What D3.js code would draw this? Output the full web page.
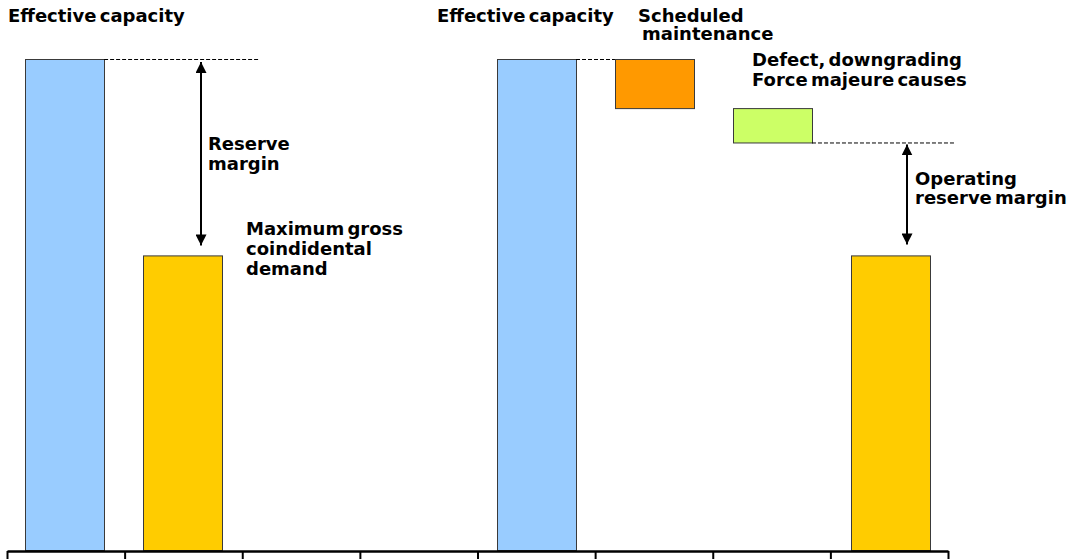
<!DOCTYPE html>
<html>
<head>
<meta charset="utf-8">
<script src="https://cdn.jsdelivr.net/npm/d3@7"></script>
<style>
  html, body { margin: 0; padding: 0; background: #fff; }
  svg text { font-family: "DejaVu Sans", Verdana, sans-serif; font-weight: bold; font-size: 18px; word-spacing: -3px; fill: #000; }
</style>
</head>
<body>
<svg id="chart" width="1068" height="559"></svg>
<script>
// Capacity balance: effective capacity vs. demand, and the deductions leading to the operating reserve margin
const categories = ["capacityA", "demandA", "gapA", "gapB", "capacityB", "maintenance", "outages", "demandB"];
const barStart   = [0,   0,  null, null, 0,   90,  83, 0];
const barEnd     = [100, 60, null, null, 100, 100, 90, 60];
const barColors  = ["#99CCFF", "#FFCC00", null, null, "#99CCFF", "#FF9900", "#CCFF66", "#FFCC00"];
const tickCount  = 8;

const svg = d3.select("#chart");
const plotLeft = 7, plotRight = 948, plotBottom = 550, plotTop = 59;

const x = d3.scaleBand().domain(categories).range([plotLeft, plotRight]).paddingInner(0.33).paddingOuter(0.153);
const xEdge = d3.scaleLinear().domain([0, tickCount]).range([plotLeft, plotRight]);
const y = d3.scaleLinear().domain([0, 100]).range([plotBottom, plotTop]);

const bars = categories.map((c, i) => ({ c, s: barStart[i], e: barEnd[i], color: barColors[i] }))
  .filter(d => d.s !== null);

svg.append("g").selectAll("rect").data(bars).join("rect")
  .attr("x", d => Math.round(x(d.c)) + 0.5)
  .attr("y", d => y(d.e) + 0.5)
  .attr("width", Math.round(x.bandwidth()))
  .attr("height", d => y(d.s) - y(d.e))
  .attr("fill", d => d.color)
  .attr("stroke", "#3a3a3a")
  .attr("stroke-width", 1);

// category axis with boundary ticks
const axis = d3.axisBottom(xEdge).tickValues(d3.range(tickCount + 1)).tickFormat("").tickSize(9).tickSizeOuter(0);
const gAxis = svg.append("g").attr("transform", `translate(0,${plotBottom + 1})`).call(axis);
gAxis.select(".domain").attr("stroke", "#000").attr("stroke-width", 2.5);
gAxis.selectAll(".tick line").attr("stroke", "#000").attr("stroke-width", 2);

// dashed guide lines
const dash = svg.append("g").attr("stroke", "#000").attr("stroke-width", 1).attr("stroke-dasharray", "4,2");
dash.append("line").attr("x1", x("capacityA") + x.bandwidth()).attr("x2", 260)
  .attr("y1", y(100) + 0.5).attr("y2", y(100) + 0.5);
dash.append("line").attr("x1", x("capacityB") + x.bandwidth()).attr("x2", x("maintenance"))
  .attr("y1", y(100) + 0.5).attr("y2", y(100) + 0.5);
dash.append("line").attr("x1", x("outages") + x.bandwidth()).attr("x2", 955)
  .attr("y1", y(83) + 0.5).attr("y2", y(83) + 0.5);

// double-headed arrows
const defs = svg.append("defs");
defs.append("marker").attr("id", "head").attr("viewBox", "0 0 10 10")
  .attr("refX", 10).attr("refY", 5).attr("markerWidth", 11).attr("markerHeight", 11)
  .attr("markerUnits", "userSpaceOnUse").attr("orient", "auto-start-reverse")
  .append("path").attr("d", "M0,0 L10,5 L0,10 Z").attr("fill", "#000");

function arrow(xp, v1, v2, gap1, gap2) {
  svg.append("line").attr("x1", xp).attr("x2", xp)
    .attr("y1", y(v1) + gap1).attr("y2", y(v2) - gap2)
    .attr("stroke", "#000").attr("stroke-width", 2)
    .attr("marker-start", "url(#head)").attr("marker-end", "url(#head)");
}
arrow(201, 100, 60, 3, 10);
arrow(907, 83, 60, 2, 11);

// annotations
function label(lines, xp, yp, dy) {
  const t = svg.append("text").attr("x", xp).attr("y", yp);
  lines.forEach((s, i) => t.append("tspan").attr("x", xp).attr("dy", i ? dy : 0).text(s));
}
label(["Effective capacity"], 8, 22, 0);
label(["Effective capacity"], 437, 22, 0);
label(["Scheduled"], 638, 21.5, 0);
label(["maintenance"], 642, 40, 0);
label(["Defect, downgrading", "Force majeure causes"], 752, 66, 19.5);
label(["Reserve", "margin"], 208, 150, 20);
label(["Maximum gross", "coindidental", "demand"], 246, 235, 20);
label(["Operating", "reserve margin"], 915, 184.5, 19.5);
</script>
</body>
</html>
